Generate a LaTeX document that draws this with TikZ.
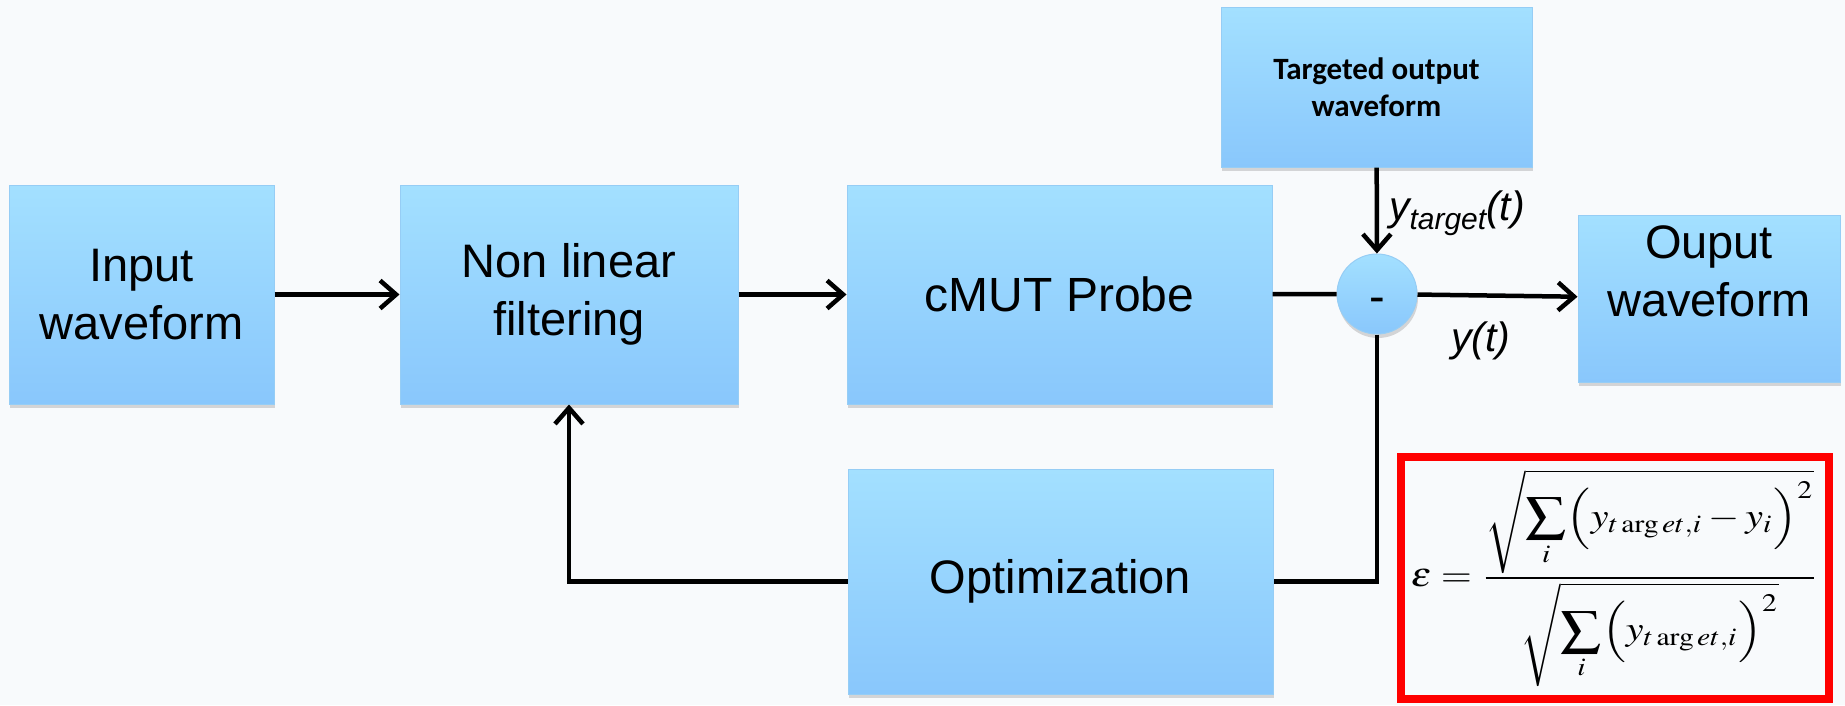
\documentclass[tikz,border=0pt]{standalone}
\usepackage{mathptmx}
\usepackage{graphicx}
\usepackage[no-math]{fontspec}
\setmainfont{Liberation Sans}
\newfontfamily\calfont{Carlito}
\usetikzlibrary{arrows.meta,shadows,calc}
\definecolor{bg}{RGB}{248,250,252}
\definecolor{boxtop}{RGB}{163,224,255}
\definecolor{boxbot}{RGB}{137,199,252}
\definecolor{boxline}{RGB}{150,205,245}
\definecolor{redline}{RGB}{255,0,0}
\tikzset{
  blk/.style={rectangle, top color=boxtop, bottom color=boxbot, draw=boxline,
    line width=1pt, inner sep=0pt, align=center,
    font=\fontsize{47}{58}\selectfont,
    drop shadow={shadow xshift=1pt, shadow yshift=-4pt, opacity=0.25, fill=black!60}},
  conn/.style={line width=4.5pt, draw=black},
  arr/.style={conn, -{Straight Barb[length=16pt,width=28pt]}},
  lbl/.style={inner sep=0pt, font=\fontsize{41}{41}\selectfont\itshape},
}
\begin{document}
\begin{tikzpicture}[x=1pt,y=-1pt]
\fill[bg] (0,0) rectangle (1845,705);
\useasboundingbox (0,0) rectangle (1845,705);
\node[blk, minimum width=265pt, minimum height=219pt] (in) at (141.5,294.5) {Input\\waveform};
\node[blk, minimum width=338pt, minimum height=219pt] (nl) at (569,294.5) {Non linear\\filtering};
\node[blk, minimum width=425pt, minimum height=219pt, font=\fontsize{48}{58}\selectfont] (cmut) at (1059.5,294.5) {cMUT Probe};
\node[blk, minimum width=311pt, minimum height=160pt, font=\calfont\bfseries\fontsize{31}{37}\selectfont] (tgt) at (1376.5,87) {Targeted output\\waveform};
\node[blk, circle, minimum size=80pt, text height=36pt, text depth=0pt] (sum) at (1377,294) {-};
\node[blk, minimum width=262pt, minimum height=167pt,
  label={[font=\fontsize{47}{58}\selectfont, align=center, yshift=27pt, inner sep=0pt]center:{Ouput\\waveform}}] (out) at (1709,298.5) {};
\node[blk, minimum width=425pt, minimum height=225pt] (opt) at (1060.5,581.5) {Optimization};

\draw[arr] (in) -- (nl);
\draw[arr] (nl) -- (cmut);
\draw[conn] (cmut) -- (sum);
\draw[arr] (sum) -- (out);
\draw[arr] (tgt) -- (sum);
\draw[conn] (sum.south) |- (opt.east);
\draw[arr] (opt.west) -| (nl.south);

\node[lbl] (lt) at (1457,213) {y\raisebox{-9pt}{\fontsize{30}{30}\selectfont target}(t)};
\node[lbl] (ly) at (1481,341) {y(t)};

\node[draw=redline, line width=8pt, minimum width=428pt, minimum height=242pt, inner sep=0pt] (eq) at (1615,578)
  {\resizebox*{408pt}{217pt}{$\displaystyle \varepsilon=\frac{\sqrt{\displaystyle\sum_i\Bigl(y_{t\arg et,i}-y_i\Bigr)^{2}}}{\sqrt{\displaystyle\sum_i\Bigl(y_{t\arg et,i}\Bigr)^{2}}}$}};
\end{tikzpicture}
\end{document}
